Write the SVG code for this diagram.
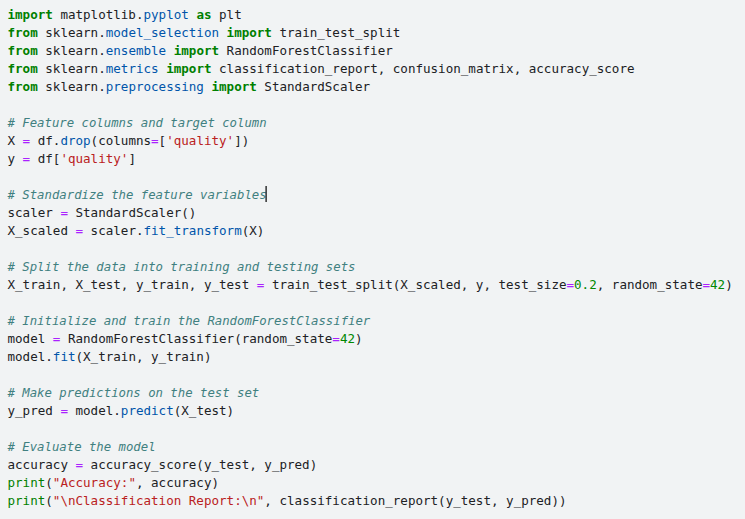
<svg xmlns="http://www.w3.org/2000/svg" width="745" height="519" viewBox="0 0 745 519">
<style>
text{font-family:"DejaVu Sans Mono","Liberation Mono",monospace;font-size:12.55px;fill:#202124;white-space:pre}
.k{fill:#008000;font-weight:bold}
.p{fill:#0055aa}
.o{fill:#aa22ff}
.s{fill:#ba2121}
.n{fill:#008800}
.b{fill:#008000}
.c{fill:#408080;font-style:italic;font-size:12.3px}
</style>
<rect x="0" y="0" width="745" height="519" fill="#f1f3f4"/>
<g id="code" xml:space="preserve">
<text x="7.5" y="18.5"><tspan class="k">import</tspan> matplotlib.<tspan class="p">pyplot</tspan> <tspan class="k">as</tspan> plt</text>
<text x="7.5" y="36.5"><tspan class="k">from</tspan> sklearn.<tspan class="p">model_selection</tspan> <tspan class="k">import</tspan> train_test_split</text>
<text x="7.5" y="54.5"><tspan class="k">from</tspan> sklearn.<tspan class="p">ensemble</tspan> <tspan class="k">import</tspan> RandomForestClassifier</text>
<text x="7.5" y="72.5"><tspan class="k">from</tspan> sklearn.<tspan class="p">metrics</tspan> <tspan class="k">import</tspan> classification_report, confusion_matrix, accuracy_score</text>
<text x="7.5" y="90.5"><tspan class="k">from</tspan> sklearn.<tspan class="p">preprocessing</tspan> <tspan class="k">import</tspan> StandardScaler</text>
<text x="7.5" y="126.5" class="c"># Feature columns and target column</text>
<text x="7.5" y="144.5">X <tspan class="o">=</tspan> df.<tspan class="p">drop</tspan>(columns<tspan class="o">=</tspan>[<tspan class="s">'quality'</tspan>])</text>
<text x="7.5" y="162.5">y <tspan class="o">=</tspan> df[<tspan class="s">'quality'</tspan>]</text>
<text x="7.5" y="198.5" class="c"># Standardize the feature variables</text>
<text x="7.5" y="216.5">scaler <tspan class="o">=</tspan> StandardScaler()</text>
<text x="7.5" y="234.5">X_scaled <tspan class="o">=</tspan> scaler.<tspan class="p">fit_transform</tspan>(X)</text>
<text x="7.5" y="270.5" class="c"># Split the data into training and testing sets</text>
<text x="7.5" y="288.5">X_train, X_test, y_train, y_test <tspan class="o">=</tspan> train_test_split(X_scaled, y, test_size<tspan class="o">=</tspan><tspan class="n">0.2</tspan>, random_state<tspan class="o">=</tspan><tspan class="n">42</tspan>)</text>
<text x="7.5" y="324.5" class="c"># Initialize and train the RandomForestClassifier</text>
<text x="7.5" y="342.5">model <tspan class="o">=</tspan> RandomForestClassifier(random_state<tspan class="o">=</tspan><tspan class="n">42</tspan>)</text>
<text x="7.5" y="360.5">model.<tspan class="p">fit</tspan>(X_train, y_train)</text>
<text x="7.5" y="396.5" class="c"># Make predictions on the test set</text>
<text x="7.5" y="414.5">y_pred <tspan class="o">=</tspan> model.<tspan class="p">predict</tspan>(X_test)</text>
<text x="7.5" y="450.5" class="c"># Evaluate the model</text>
<text x="7.5" y="468.5">accuracy <tspan class="o">=</tspan> accuracy_score(y_test, y_pred)</text>
<text x="7.5" y="486.5"><tspan class="b">print</tspan>(<tspan class="s">"Accuracy:"</tspan>, accuracy)</text>
<text x="7.5" y="504.5"><tspan class="b">print</tspan>(<tspan class="s">"\nClassification Report:\n"</tspan>, classification_report(y_test, y_pred))</text>
</g>
<rect id="cursor" x="265.5" y="186" width="1.2" height="16" fill="#000000"/>
</svg>
